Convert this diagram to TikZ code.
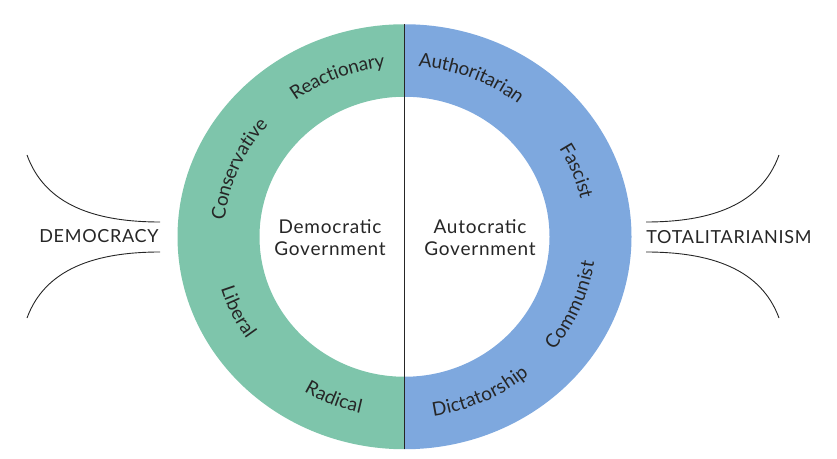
\documentclass[tikz,border=0pt]{standalone}
\usepackage{fontspec}
\setmainfont{Lato}[LetterSpace=4]
\usetikzlibrary{decorations.text}
\definecolor{ringgreen}{RGB}{126,197,171}
\definecolor{ringblue}{RGB}{126,168,222}
\newcommand\ringfont{\fontsize{19}{22}\selectfont}
\newcommand\ringword[3]{%
  \path[decorate,decoration={text along path,text align=center,raise=-5.5pt,text={|\ringfont\color{black!85}|#3}}]
    (c) ++(#1:186 and 176) arc[start angle=#1,end angle=#2,x radius=186,y radius=176];}
\tikzset{
  wing/.style={draw=black!85,line width=0.9pt},
  endlabel/.style={font=\fontsize{18}{22}\selectfont,text=black!85,inner sep=0pt},
  centerlabel/.style={font=\fontsize{19}{22}\selectfont,text=black!85,align=center,inner sep=0pt}
}
\begin{document}
\begin{tikzpicture}[x=1pt,y=1pt]
\useasboundingbox (0,0) rectangle (837,458);
\coordinate (c) at (404.5,221.25);
% green half
\fill[ringgreen] (404.5,433.75) arc[start angle=90,end angle=270,x radius=227,y radius=212.5]
  -- (404.5,81.25) arc[start angle=270,end angle=90,x radius=145,y radius=140] -- cycle;
% blue half
\fill[ringblue] (404.5,433.75) arc[start angle=90,end angle=-90,x radius=227,y radius=212.5]
  -- (404.5,81.25) arc[start angle=-90,end angle=90,x radius=145,y radius=140] -- cycle;
% dividing line
\coordinate (ltop) at (404.5,434);
\coordinate (lbot) at (404.5,9);
\draw[black!85,line width=1pt] (ltop) -- (lbot);
% ring words
\ringword{152}{72}{Reactionary}
\ringword{197}{117}{Conservative}
\ringword{165}{245}{Liberal}
\ringword{207}{287}{Radical}
\ringword{108}{28}{Authoritarian}
\ringword{61.5}{-18.5}{Fascist}
\ringword{-63}{17}{Communist}
\ringword{-105}{-25}{Dictatorship}
% centre labels
\node[centerlabel] (dem) at (330,220) {Democratic\\Government};
\node[centerlabel] (aut) at (480,220) {Autocratic\\Government};
% end labels
\node[endlabel] (democracy) at (99,221.5) {DEMOCRACY};
\node[endlabel] (total) at (729,220.5) {TOTALITARIANISM};
% wings
\draw[wing] (27,303) .. controls (45,253) and (95,236) .. (160,236);
\draw[wing] (160,206) .. controls (95,206) and (45,189) .. (27,140);
\draw[wing] (646,236) .. controls (711,236) and (761,253) .. (779,303);
\draw[wing] (646,206) .. controls (711,206) and (761,189) .. (779,140);
\end{tikzpicture}
\end{document}
